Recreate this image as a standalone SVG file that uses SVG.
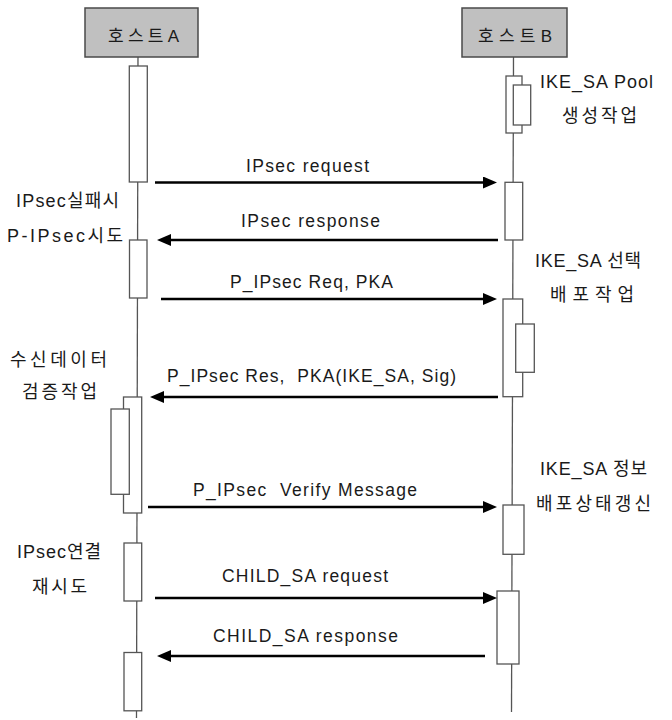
<svg xmlns="http://www.w3.org/2000/svg" width="672" height="720" viewBox="0 0 672 720">
<style>
.host{fill:#c0c0c0;stroke:#4a4a4a;stroke-width:1.5}
.act{fill:#ffffff;stroke:#555555;stroke-width:1.3}
.life{stroke:#555555;stroke-width:1.3;fill:none}
.msg{stroke:#000000;stroke-width:2.4;fill:none}
.t{font-family:"Liberation Sans","Noto Sans CJK KR",sans-serif;font-size:17.5px;fill:#1a1a1a}
.k{font-family:"Liberation Sans","Noto Sans CJK KR",sans-serif;font-size:18px;fill:#1a1a1a}
.h{font-family:"Liberation Sans","Noto Sans CJK KR",sans-serif;font-size:17px;fill:#1a1a1a}
</style>
<defs>
<marker id="ah" markerUnits="userSpaceOnUse" markerWidth="14" markerHeight="12" refX="4" refY="6" orient="auto">
<path d="M0,0 L14,6 L0,12 z" fill="#000000"/>
</marker>
</defs>
<rect width="672" height="720" fill="#ffffff"/>

<g id="lifelines">
<line class="life" x1="138" y1="57" x2="136.5" y2="718"/>
<line class="life" x1="513.5" y1="57" x2="511.5" y2="712"/>
</g>

<g id="hostA">
<rect class="host" x="85" y="8" width="113" height="49"/>
<text class="h" x="108" y="42" textLength="71" lengthAdjust="spacing">호스트A</text>
</g>
<g id="hostB">
<rect class="host" x="462" y="8" width="105" height="49"/>
<text class="h" x="478" y="42" textLength="74" lengthAdjust="spacing">호스트B</text>
</g>

<g id="activationsA">
<rect class="act" x="129.3" y="66" width="18" height="116"/>
<rect class="act" x="129.5" y="240" width="17.5" height="58"/>
<rect class="act" x="123.5" y="397" width="18.2" height="116"/>
<rect class="act" x="111" y="409" width="18.3" height="85.3"/>
<rect class="act" x="124" y="543" width="17.7" height="58"/>
<rect class="act" x="124" y="652.5" width="17.7" height="58.3"/>
</g>

<g id="activationsB">
<rect class="act" x="506" y="76" width="16" height="57"/>
<rect class="act" x="513.3" y="85" width="17.4" height="40"/>
<rect class="act" x="505" y="182.3" width="17.7" height="57.7"/>
<rect class="act" x="503" y="299" width="19.7" height="97.7"/>
<rect class="act" x="515.7" y="324" width="18.6" height="48.3"/>
<rect class="act" x="503" y="505" width="21" height="49.3"/>
<rect class="act" x="497" y="591" width="22" height="73"/>
</g>

<g id="connectors">
<line class="msg" x1="155" y1="182.5" x2="487" y2="182.5" marker-end="url(#ah)"/>
<line class="msg" x1="498" y1="240" x2="167" y2="240" marker-end="url(#ah)"/>
<line class="msg" x1="161" y1="299" x2="487" y2="299" marker-end="url(#ah)"/>
<line class="msg" x1="498" y1="397" x2="160" y2="397" marker-end="url(#ah)"/>
<line class="msg" x1="148" y1="507" x2="487" y2="507" marker-end="url(#ah)"/>
<line class="msg" x1="155" y1="598" x2="487" y2="598" marker-end="url(#ah)"/>
<line class="msg" x1="485" y1="656" x2="167" y2="656" marker-end="url(#ah)"/>
</g>

<g id="messageLabels">
<text class="t" x="246" y="172" textLength="123" lengthAdjust="spacing">IPsec request</text>
<text class="t" x="241" y="227" textLength="139" lengthAdjust="spacing">IPsec response</text>
<text class="t" x="230" y="288" textLength="163" lengthAdjust="spacing">P_IPsec Req, PKA</text>
<text class="t" x="167" y="382" textLength="289" lengthAdjust="spacing" xml:space="preserve">P_IPsec Res,  PKA(IKE_SA, Sig)</text>
<text class="t" x="193" y="496" textLength="224" lengthAdjust="spacing" xml:space="preserve">P_IPsec  Verify Message</text>
<text class="t" x="222" y="582" textLength="166" lengthAdjust="spacing">CHILD_SA request</text>
<text class="t" x="213" y="642" textLength="185" lengthAdjust="spacing">CHILD_SA response</text>
</g>

<g id="notes">
<text class="k" x="540" y="88" textLength="113" lengthAdjust="spacing">IKE_SA Pool</text>
<text class="k" x="562" y="122" textLength="75" lengthAdjust="spacing">생성작업</text>
<text class="k" x="16" y="207" textLength="103" lengthAdjust="spacing">IPsec실패시</text>
<text class="k" x="7" y="242" textLength="116" lengthAdjust="spacing">P-IPsec시도</text>
<text class="k" x="535" y="267" textLength="106" lengthAdjust="spacing">IKE_SA 선택</text>
<text class="k" x="550" y="301" textLength="84" lengthAdjust="spacing">배포작업</text>
<text class="k" x="10" y="366" textLength="97" lengthAdjust="spacing">수신데이터</text>
<text class="k" x="22" y="398" textLength="75" lengthAdjust="spacing">검증작업</text>
<text class="k" x="540" y="475" textLength="107" lengthAdjust="spacing">IKE_SA 정보</text>
<text class="k" x="536" y="510" textLength="115" lengthAdjust="spacing">배포상태갱신</text>
<text class="k" x="17" y="558" textLength="84" lengthAdjust="spacing">IPsec연결</text>
<text class="k" x="32" y="593" textLength="55" lengthAdjust="spacing">재시도</text>
</g>
</svg>
